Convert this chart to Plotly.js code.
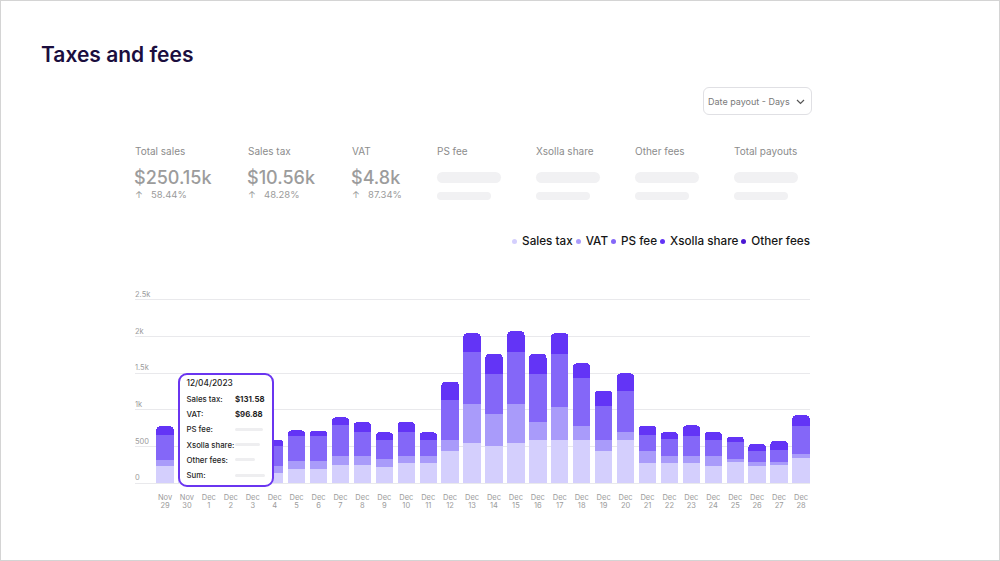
<!DOCTYPE html>
<html>
<head>
<meta charset="utf-8">
<script src="https://cdn.plot.ly/plotly-3.0.1.min.js"></script>
<style>
html,body{margin:0;padding:0;background:#fff;}
#page{position:relative;width:1000px;height:561px;overflow:hidden;font-family:Inter,"Noto Sans",sans-serif;background:#fff;}
#chart{position:absolute;left:0;top:0;width:1000px;height:561px;}
#frame{position:absolute;left:0;top:0;width:1000px;height:561px;box-sizing:border-box;border:1px solid #d4d4d4;pointer-events:none;z-index:20;}
.abs{position:absolute;white-space:nowrap;}
.kpi-label{font-size:10px;line-height:12px;color:#8c8c8c;}
.kpi-value{font-size:18px;line-height:22px;color:#9c9c9c;font-weight:500;}
.kpi-pct{font-size:9.5px;line-height:11px;color:#9a9a9a;}
.pill{position:absolute;background:#f1f1f3;border-radius:6px;}
#dropdown{position:absolute;left:703px;top:87px;width:109px;height:28px;box-sizing:border-box;border:1px solid #e0e0e4;border-radius:6px;background:#fff;z-index:5;}
#legend{position:absolute;right:190px;top:234px;height:14px;display:flex;align-items:center;z-index:5;}
.litem{display:flex;align-items:center;margin-left:3px;font-size:11.7px;font-weight:500;color:#161616;}
.ldot{width:5px;height:5px;border-radius:50%;margin-right:5px;}
#tooltip{position:absolute;left:178px;top:373px;width:96px;height:114px;box-sizing:border-box;border:2px solid #6a35f0;border-radius:9px;background:#fff;z-index:10;}
.tt{position:absolute;font-size:7.8px;line-height:8px;color:#1e1e1e;font-weight:500;white-space:nowrap;}
.ttv{font-weight:700;}
.tsk{position:absolute;height:3px;border-radius:2px;background:#eeeef0;}
</style>
</head>
<body>
<div id="page">
  <div id="chart"></div>
  <div id="dropdown">
    <div class="abs" style="left:4px;top:8px;font-size:9px;line-height:11px;color:#7a7a7a;">Date payout - Days</div>
    <svg class="abs" style="left:92px;top:11px;" width="9" height="6" viewBox="0 0 9 6"><path d="M1 1 L4.5 4.5 L8 1" fill="none" stroke="#555" stroke-width="1.2"/></svg>
  </div>
  <div id="kpis"></div>
  <div id="legend"></div>
  <div id="tooltip"></div>
  <div id="frame"></div>
</div>
<script>
// ---- data ----
const dates = ["Nov 29","Nov 30","Dec 1","Dec 2","Dec 3","Dec 4","Dec 5","Dec 6","Dec 7","Dec 8",
  "Dec 9","Dec 10","Dec 11","Dec 12","Dec 13","Dec 14","Dec 15","Dec 16","Dec 17","Dec 18",
  "Dec 19","Dec 20","Dec 21","Dec 22","Dec 23","Dec 24","Dec 25","Dec 26","Dec 27","Dec 28"];
const salesTax = [236,230,220,210,200,131.58,195,190,245,245,223,273,273,432,545,500,545,591,591,591,432,591,273,273,273,236,286,236,245,341];
const vat      = [72,70,65,60,60,96.88,105,110,127,127,104,99,99,159,537,441,537,241,445,191,159,104,159,99,99,136,41,50,41,54];
const psFee    = [351,330,310,290,270,272,345,340,419,319,264,319,219,545,704,550,704,659,723,650,454,564,227,228,264,219,228,146,159,387];
const xsollaShare = [113,100,95,90,85,91,73,75,104,141,100,141,100,246,255,268,282,268,282,200,214,236,123,95,150,104,77,104,128,140];
const otherFees = [0,0,0,0,0,0,0,0,0,0,0,0,0,0,0,0,0,0,0,0,0,0,0,0,0,0,0,0,0,0];

const seriesNames  = ["Sales tax","VAT","PS fee","Xsolla share","Other fees"];
const seriesColors = ["#d4cffd","#a99bfa","#8467f8","#6334f6","#4b17d3"];

const yTickVals = [0,500,1000,1500,2000,2500];
const yTickText = ["0","500","1k","1.5k","2k","2.5k"];

const kpiLabels = ["Total sales","Sales tax","VAT","PS fee","Xsolla share","Other fees","Total payouts"];
const kpiValues = ["$250.15k","$10.56k","$4.8k",null,null,null,null];
const kpiChanges = ["58.44%","48.28%","87.34%",null,null,null,null];

const tooltipDate = "12/04/2023";
const tooltipRows = ["Sales tax:","VAT:","PS fee:","Xsolla share:","Other fees:","Sum:"];
const tooltipVals = ["$131.58","$96.88",null,null,null,null];

// ---- derived tick labels ----
const tickMonths = dates.map(d => d.split(" ")[0]);
const tickDays = dates.map(d => d.split(" ")[1]);

// ---- chart ----
const allSeries = [salesTax, vat, psFee, xsollaShare, otherFees];
const traces = allSeries.map((vals,i) => ({
  type:'bar', x:dates, y:vals, name:seriesNames[i],
  marker:{color:seriesColors[i]}, showlegend:false, hoverinfo:'skip',
  xaxis: i === 4 ? 'x2' : 'x'
}));

const xr = [-1.368, 29.41];
const tickFont = {size:7.5, color:'#9b9b9b'};
const layout = {
  width:1000, height:561,
  margin:{l:135, r:190, t:290, b:78, pad:0},
  paper_bgcolor:'rgba(0,0,0,0)', plot_bgcolor:'rgba(0,0,0,0)',
  barmode:'stack', bargap:0.21, barcornerradius:4,
  showlegend:false, hovermode:false,
  font:{family:'Inter, Noto Sans, sans-serif'},
  title:{text:'Taxes and fees', xref:'container', yref:'container', x:0.041, xanchor:'left', y:1-55/561, yanchor:'middle',
         font:{size:21, color:'#1b0e3e', weight:600}},
  xaxis:{type:'category', range:xr, tickvals:dates, ticktext:tickMonths, showgrid:false, zeroline:false, showline:false,
         ticks:'', tickfont:tickFont, ticklabelstandoff:8, fixedrange:true},
  xaxis2:{type:'category', overlaying:'x', anchor:'y', side:'bottom', range:xr, tickvals:dates, ticktext:tickDays,
         showgrid:false, zeroline:false, showline:false, ticks:'', tickfont:tickFont, ticklabelstandoff:16, fixedrange:true},
  yaxis:{range:[0,2632], tickvals:yTickVals, ticktext:yTickText, ticklabelposition:'inside top', ticklabelstandoff:-3, showgrid:true,
         gridcolor:'#e9e9ec', gridwidth:1, zeroline:true, zerolinecolor:'#e9e9ec', zerolinewidth:1, showline:false, ticks:'',
         tickfont:tickFont, fixedrange:true}
};
Plotly.newPlot('chart', traces, layout, {staticPlot:true, displayModeBar:false});

// ---- KPIs ----
const kpiX = [135,248,352,437,536,635,734];
const kpis = document.getElementById('kpis');
kpiLabels.forEach((lab,i) => {
  let h = `<div class="abs kpi-label" style="left:${kpiX[i]}px;top:145px;">${lab}</div>`;
  if (kpiValues[i]) {
    h += `<div class="abs kpi-value" style="left:${kpiX[i]-1}px;top:167px;">${kpiValues[i]}</div>`;
    h += `<div class="abs kpi-pct" style="left:${kpiX[i]}px;top:189px;"><span style="display:inline-block;width:16px;">↑</span>${kpiChanges[i]}</div>`;
  } else {
    h += `<div class="pill" style="left:${kpiX[i]}px;top:172px;width:64px;height:11px;"></div>`;
    h += `<div class="pill" style="left:${kpiX[i]}px;top:192px;width:54px;height:8px;"></div>`;
  }
  kpis.insertAdjacentHTML('beforeend', h);
});

// ---- legend ----
const lg = document.getElementById('legend');
seriesNames.forEach((n,i) => {
  lg.insertAdjacentHTML('beforeend', `<div class="litem"><div class="ldot" style="background:${seriesColors[i]}"></div>${n}</div>`);
});

// ---- tooltip ----
const tt = document.getElementById('tooltip');
const rowTop = [20, 35, 50, 65.5, 80.5, 96];
const skW = [28, 25, 20, 30];
tt.insertAdjacentHTML('beforeend', `<div class="tt" style="left:6.5px;top:4px;font-size:8.3px;">${tooltipDate}</div>`);
tooltipRows.forEach((r,i) => {
  tt.insertAdjacentHTML('beforeend', `<div class="tt" style="left:6.5px;top:${rowTop[i]}px;">${r}</div>`);
  if (tooltipVals[i]) {
    tt.insertAdjacentHTML('beforeend', `<div class="tt ttv" style="left:55px;top:${rowTop[i]}px;">${tooltipVals[i]}</div>`);
  } else {
    tt.insertAdjacentHTML('beforeend', `<div class="tsk" style="left:55px;top:${rowTop[i]+2.5}px;width:${skW[i-2]}px;"></div>`);
  }
});
</script>
</body>
</html>
